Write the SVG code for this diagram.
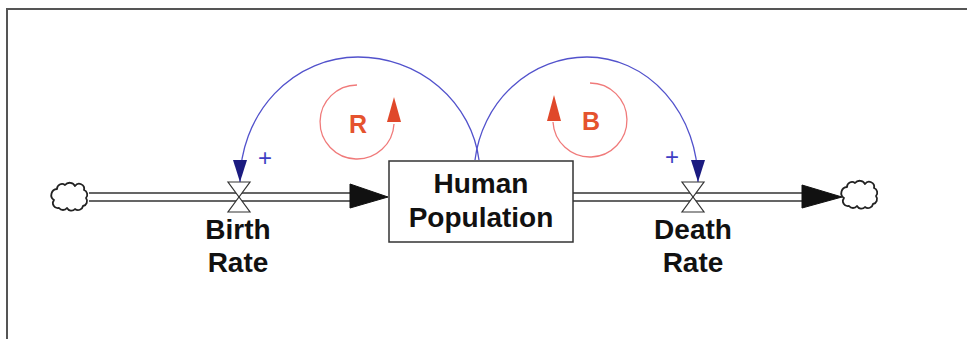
<svg xmlns="http://www.w3.org/2000/svg" width="967" height="339" viewBox="0 0 967 339">
  <style>
    .frame { fill: none; stroke: #555; stroke-width: 2; }
    .pipe { fill: none; stroke: #333; stroke-width: 1.6; }
    .flowhead { fill: #111; stroke: #111; stroke-width: 1; }
    .valve { fill: #fff; stroke: #333; stroke-width: 1.2; }
    .cloud { fill: #fff; stroke: #222; stroke-width: 1.8; stroke-linejoin: round; }
    .stock { fill: #fff; stroke: #333; stroke-width: 1.5; }
    .label { font-family: "Liberation Sans", Arial, sans-serif; font-weight: bold; font-size: 28px; fill: #111; text-anchor: middle; }
    .link { fill: none; stroke: #5252cc; stroke-width: 1.3; }
    .pol { font-family: "Liberation Sans", Arial, sans-serif; font-size: 24px; fill: #3e3ec4; text-anchor: middle; }
    .loop { fill: none; stroke: #f07a7a; stroke-width: 1.3; }
    .loophead { fill: #e0482a; }
    .looplabel { font-family: "Liberation Sans", Arial, sans-serif; font-weight: bold; font-size: 25px; fill: #e5532e; text-anchor: middle; }
  </style>
  <defs>
    <marker id="linkhead" viewBox="0 0 22 14" refX="22" refY="7" markerWidth="22" markerHeight="14" markerUnits="userSpaceOnUse" orient="auto">
      <path d="M0,0 L22,7 L0,14 z" fill="#1b1b80"/>
    </marker>
    <path id="cloudshape" class="cloud" d="M-14,-8 a5,5 0 0 1 8,-4 a6,6 0 0 1 10,1 a5,5 0 0 1 9,4 a5,5 0 0 1 2,8 a5,5 0 0 1 -3,8 a5,5 0 0 1 -8,3 a5,5 0 0 1 -8,-1 a5,5 0 0 1 -8,0 a5,5 0 0 1 -5,-8 a6,6 0 0 1 3,-11 z"/>
    <g id="valveshape">
      <path class="valve" d="M-11,-15 L11,-15 L0,0 z"/>
      <path class="valve" d="M-11,15 L11,15 L0,0 z"/>
    </g>
  </defs>

  <rect width="967" height="339" fill="#fff"/>
  <path class="frame" d="M7,339 V9 H967"/>

  <!-- connectors: flow pipes and causal links -->
  <g id="connectors">
    <path class="pipe" d="M89,193 H352 M89,201 H352"/>
    <path class="flowhead" d="M350,184 L388,197 L350,208 z"/>
    <path class="pipe" d="M573,193 H804 M573,201 H804"/>
    <path class="flowhead" d="M802,185 L842,197 L802,208 z"/>
    <path class="link" d="M479,160 A122,118 0 0 0 358,57 A118,125 0 0 0 240,182" marker-end="url(#linkhead)"/>
    <path class="link" d="M475,160 A113,118 0 0 1 587,57 A111,125 0 0 1 698,182" marker-end="url(#linkhead)"/>
    <text class="pol" x="265" y="166">+</text>
    <text class="pol" x="672" y="165">+</text>
  </g>

  <g id="source-cloud">
    <use href="#cloudshape" x="71" y="197"/>
  </g>
  <g id="sink-cloud">
    <use href="#cloudshape" x="861" y="195"/>
  </g>

  <g id="birth-rate">
    <use href="#valveshape" x="239" y="197"/>
    <text class="label" x="238" y="239">Birth</text>
    <text class="label" x="238" y="272">Rate</text>
  </g>

  <g id="human-population">
    <rect class="stock" x="389" y="161" width="184" height="81"/>
    <text class="label" x="481" y="193">Human</text>
    <text class="label" x="481" y="227">Population</text>
  </g>

  <g id="death-rate">
    <use href="#valveshape" x="693" y="197"/>
    <text class="label" x="693" y="239">Death</text>
    <text class="label" x="693" y="272">Rate</text>
  </g>

  <g id="loop-r">
    <path class="loop" d="M357,85 A37,37 0 1 0 394,124"/>
    <path class="loophead" d="M394,97 L387,122 L401,122 z"/>
    <text class="looplabel" x="358" y="133">R</text>
  </g>

  <g id="loop-b">
    <path class="loop" d="M590,83 A37,37 0 1 1 553,122"/>
    <path class="loophead" d="M554,95 L547,121 L561,121 z"/>
    <text class="looplabel" x="591" y="130">B</text>
  </g>
</svg>
